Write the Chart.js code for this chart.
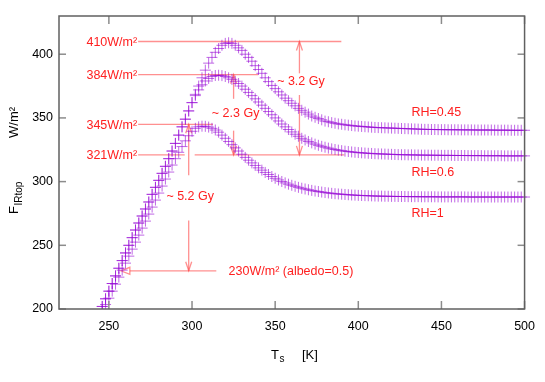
<!DOCTYPE html>
<html lang="en">
<head>
<meta charset="UTF-8">
<title>F_IRtop vs Ts</title>
<style>
  html, body { margin: 0; padding: 0; background: #fff; }
</style>
</head>
<body>
<canvas id="chart" width="545" height="382"></canvas>
<script src="https://cdn.jsdelivr.net/npm/chart.js@4.4.0/dist/chart.umd.min.js"></script>
<script>
// surface temperature [K]
const temps = [
  246,248,250,252,254,256,258,260,262,264,
  266,268,270,272,274,276,278,280,282,284,
  286,288,290,292,294,296,298,300,302,304,
  306,308,310,312,314,316,318,320,322,324,
  326,328,330,332,334,336,338,340,342,344,
  346,348,350,352,354,356,358,360,362,364,
  366,368,370,372,374,376,378,380,382,384,
  386,388,390,392,394,396,398,400,402,404,
  406,408,410,412,414,416,418,420,422,424,
  426,428,430,432,434,436,438,440,442,444,
  446,448,450,452,454,456,458,460,462,464,
  466,468,470,472,474,476,478,480,482,484,
  486,488,490,492,494,496,498,500
];

// F_IRtop [W/m2] for each relative humidity
const rh045 = [
  202,208,214,220,226,232,238,244,250,256,
  262,267.5,273,278.5,284,290,295.5,301,306.5,312,
  318,324,330,336.5,343,349,355.5,362,368.5,375,
  381.5,387.5,393,397.5,401.5,404.5,407,408.5,409,408.5,
  407,405,403,400,397.5,394.5,391,388,385,381.5,
  378.5,375.5,373,370.5,368,365.5,363.5,361.5,359.5,357.5,
  356,354.5,353,351.5,350.5,349.5,348.5,347.5,347,346.3,
  345.8,345.3,345,344.6,344.3,344,343.7,343.5,343.3,343.1,
  342.9,342.7,342.5,342.4,342.3,342.2,342.1,342,341.9,341.8,
  341.7,341.6,341.5,341.4,341.3,341.2,341.1,341,341,340.9,
  340.9,340.8,340.8,340.8,340.7,340.7,340.7,340.7,340.6,340.6,
  340.6,340.6,340.5,340.5,340.5,340.5,340.5,340.5,340.4,340.4,
  340.4,340.4,340.4,340.3,340.3,340.3,340.3,340.3
];
const rh06 = [
  202,208,214,220,226,232,238,244,250,256,
  262,267.5,273,278.5,284,290,295.5,301,306.5,312,
  318,324,330,336.5,343,349,355.5,362,367.5,372,
  376,379,381,382.5,383.3,383.5,383.2,382.5,381.5,380.3,
  378.8,377,375,372.5,370,367.5,365,362.5,360,357.5,
  355,352.5,350,347.6,345.2,343,340.9,339,337.2,335.6,
  334,332.7,331.5,330.4,329.4,328.5,327.7,327,326.3,325.7,
  325.2,324.7,324.3,323.9,323.6,323.3,323,322.8,322.6,322.4,
  322.2,322.1,321.9,321.8,321.7,321.6,321.5,321.4,321.3,321.2,
  321.1,321.1,321,321,320.9,320.9,320.8,320.8,320.8,320.7,
  320.7,320.7,320.6,320.6,320.6,320.6,320.5,320.5,320.5,320.5,
  320.4,320.4,320.4,320.4,320.4,320.3,320.3,320.3,320.3,320.3,
  320.3,320.2,320.2,320.2,320.2,320.2,320.2,320.2
];
const rh1 = [
  199,203.5,208.5,214,219.5,225,230.5,236,241.5,247,
  252.5,258,263.5,269,274.5,280,285.5,291,296.5,302,
  307.5,313,318,323,327.5,332,336,339.5,341.8,343,
  343.5,343.4,342.8,341.8,340.5,338.8,336.5,334,331.5,329,
  326.5,324,321.5,319,316.8,314.7,312.7,310.8,309,307.2,
  305.6,304,302.6,301.3,300.1,299,298,297.1,296.3,295.5,
  294.8,294.2,293.6,293.1,292.6,292.2,291.8,291.4,291.1,290.8,
  290.5,290.3,290.1,289.9,289.7,289.5,289.4,289.2,289.1,289,
  288.9,288.8,288.7,288.6,288.6,288.5,288.5,288.4,288.4,288.3,
  288.3,288.3,288.2,288.2,288.2,288.2,288.1,288.1,288.1,288.1,
  288.1,288,288,288,288,288,288,288,288,288,
  287.9,287.9,287.9,287.9,287.9,287.9,287.9,287.9,287.9,287.9,
  287.9,287.9,287.9,287.9,287.9,287.9,287.9,287.9
];

const xTicks = [250, 300, 350, 400, 450, 500];
const yTicks = [200, 250, 300, 350, 400];

// reference levels and labels
const levels = [410, 384, 345, 321];
const levelText = ['410W/m\u00b2', '384W/m\u00b2', '345W/m\u00b2', '321W/m\u00b2'];
const rhText = ['RH=0.45', 'RH=0.6', 'RH=1'];

const FONT = "'Liberation Sans', Arial, sans-serif";
const FS = 12.5;
const PURPLE = 'rgba(148,0,211,0.6)';
const RED = '#ff2020';
const PINK = 'rgba(255,70,70,0.6)';

function series(vals) {
  return temps.map((t, i) => ({ x: t, y: vals[i] }));
}

function seg(ctx, x1, y1, x2, y2) {
  ctx.beginPath();
  ctx.moveTo(x1, y1);
  ctx.lineTo(x2, y2);
  ctx.stroke();
}

// vertical arrow with an open V head at yTo
function vArrow(ctx, x, yFrom, yTo) {
  seg(ctx, x, yFrom, x, yTo);
  const d = yTo < yFrom ? 1 : -1;
  ctx.beginPath();
  ctx.moveTo(x - 3, yTo + d * 9);
  ctx.lineTo(x, yTo);
  ctx.lineTo(x + 3, yTo + d * 9);
  ctx.stroke();
}

const overlay = {
  id: 'overlay',
  beforeDatasetsDraw(chart) {
    const ctx = chart.ctx;
    const X = v => chart.scales.x.getPixelForValue(v);
    const Y = v => chart.scales.y.getPixelForValue(v);
    ctx.save();
    ctx.strokeStyle = PINK;
    ctx.lineWidth = 1.3;
    // horizontal level lines
    seg(ctx, X(267.6), Y(410), X(389.8), Y(410));
    seg(ctx, X(267.6), Y(384), X(339.8), Y(384));
    seg(ctx, X(267.6), Y(345), X(312.6), Y(345));
    seg(ctx, X(267.6), Y(321), X(295.6), Y(321));
    seg(ctx, X(301.6), Y(321), X(391.6), Y(321));
    // vertical arrows
    vArrow(ctx, X(364.6), Y(385), Y(410));
    vArrow(ctx, X(364.6), Y(368), Y(321));
    vArrow(ctx, X(325), Y(365), Y(384));
    vArrow(ctx, X(325), Y(340), Y(321));
    vArrow(ctx, X(298), Y(305), Y(345));
    vArrow(ctx, X(298), Y(269.5), Y(230));
    // albedo arrow with empty head
    const tip = X(257.2), ya = Y(230);
    seg(ctx, X(314.6), ya, tip + 9, ya);
    ctx.beginPath();
    ctx.moveTo(tip, ya);
    ctx.lineTo(tip + 9, ya - 3.5);
    ctx.lineTo(tip + 9, ya + 3.5);
    ctx.closePath();
    ctx.stroke();
    ctx.restore();
  },
  afterDraw(chart) {
    const ctx = chart.ctx;
    const a = chart.chartArea;
    const X = v => chart.scales.x.getPixelForValue(v);
    const Y = v => chart.scales.y.getPixelForValue(v);
    ctx.save();
    // frame and mirrored inward ticks
    ctx.strokeStyle = '#8c8c8c';
    ctx.lineWidth = 1.5;
    xTicks.forEach(v => {
      seg(ctx, X(v), a.bottom, X(v), a.bottom - 8);
      seg(ctx, X(v), a.top, X(v), a.top + 8);
    });
    yTicks.forEach(v => {
      seg(ctx, a.left, Y(v), a.left + 7, Y(v));
      seg(ctx, a.right, Y(v), a.right - 7, Y(v));
    });
    ctx.strokeStyle = '#606060';
    ctx.lineWidth = 1.5;
    ctx.strokeRect(a.left, a.top, a.right - a.left, a.bottom - a.top);

    // red annotations
    ctx.fillStyle = RED;
    ctx.font = FS + 'px ' + FONT;
    ctx.textBaseline = 'middle';
    ctx.textAlign = 'right';
    levels.forEach((v, i) => ctx.fillText(levelText[i], X(267.6) - 1, Y(v) + 1));
    ctx.textAlign = 'center';
    ctx.fillText('~ 3.2 Gy', X(365.5), Y(378.7));
    ctx.fillText('~ 2.3 Gy', X(326.2), Y(353.4));
    ctx.fillText('~ 5.2 Gy', X(298.9), Y(288.6));
    ctx.textAlign = 'left';
    ctx.fillText(rhText[0], X(432), Y(354));
    ctx.fillText(rhText[1], X(432), Y(307));
    ctx.fillText(rhText[2], X(432), Y(275));
    ctx.fillText('230W/m\u00b2 (albedo=0.5)', X(322), Y(229.5));

    // axis titles with subscripts
    ctx.fillStyle = '#000';
    ctx.textBaseline = 'alphabetic';
    ctx.textAlign = 'left';
    ctx.font = '13px ' + FONT;
    ctx.fillText('T', 271, 359);
    const wT = ctx.measureText('T').width;
    ctx.font = '10px ' + FONT;
    ctx.fillText('s', 271 + wT + 0.5, 362);
    ctx.font = '13px ' + FONT;
    ctx.fillText('[K]', 302, 359);

    ctx.translate(18, 0);
    ctx.rotate(-Math.PI / 2);
    ctx.fillText('F', -214, 0);
    const wF = ctx.measureText('F').width;
    ctx.font = '10px ' + FONT;
    ctx.fillText('IRtop', -214 + wF + 0.5, 4);
    ctx.font = '13px ' + FONT;
    ctx.fillText('W/m\u00b2', -138, 0);
    ctx.restore();
  }
};

new Chart(document.getElementById('chart'), {
  type: 'scatter',
  data: {
    datasets: [rh045, rh06, rh1].map(v => ({
      data: series(v),
      showLine: false,
      pointStyle: 'cross',
      pointRadius: 5.5,
      pointHoverRadius: 5.5,
      pointBorderWidth: 1,
      pointBorderColor: PURPLE,
      pointBackgroundColor: PURPLE,
      clip: { left: 0, top: 0, right: 6, bottom: 0 }
    }))
  },
  options: {
    responsive: false,
    animation: false,
    events: [],
    layout: { padding: { left: 0, top: 16, right: 19, bottom: 0 } },
    plugins: { legend: { display: false }, tooltip: { enabled: false } },
    scales: {
      x: {
        type: 'linear',
        min: 220,
        max: 500,
        grid: { display: false, drawTicks: false },
        border: { display: false },
        afterBuildTicks: s => { s.ticks = xTicks.map(v => ({ value: v })); },
        afterFit: s => { s.height = 73; },
        ticks: { padding: 10, color: '#000', font: { family: FONT, size: FS } }
      },
      y: {
        type: 'linear',
        min: 200,
        max: 430,
        grid: { display: false, drawTicks: false },
        border: { display: false },
        afterBuildTicks: s => { s.ticks = yTicks.map(v => ({ value: v })); },
        afterFit: s => { s.width = 59; },
        ticks: { padding: 6, color: '#000', font: { family: FONT, size: FS } }
      }
    }
  },
  plugins: [overlay]
});
</script>
</body>
</html>
